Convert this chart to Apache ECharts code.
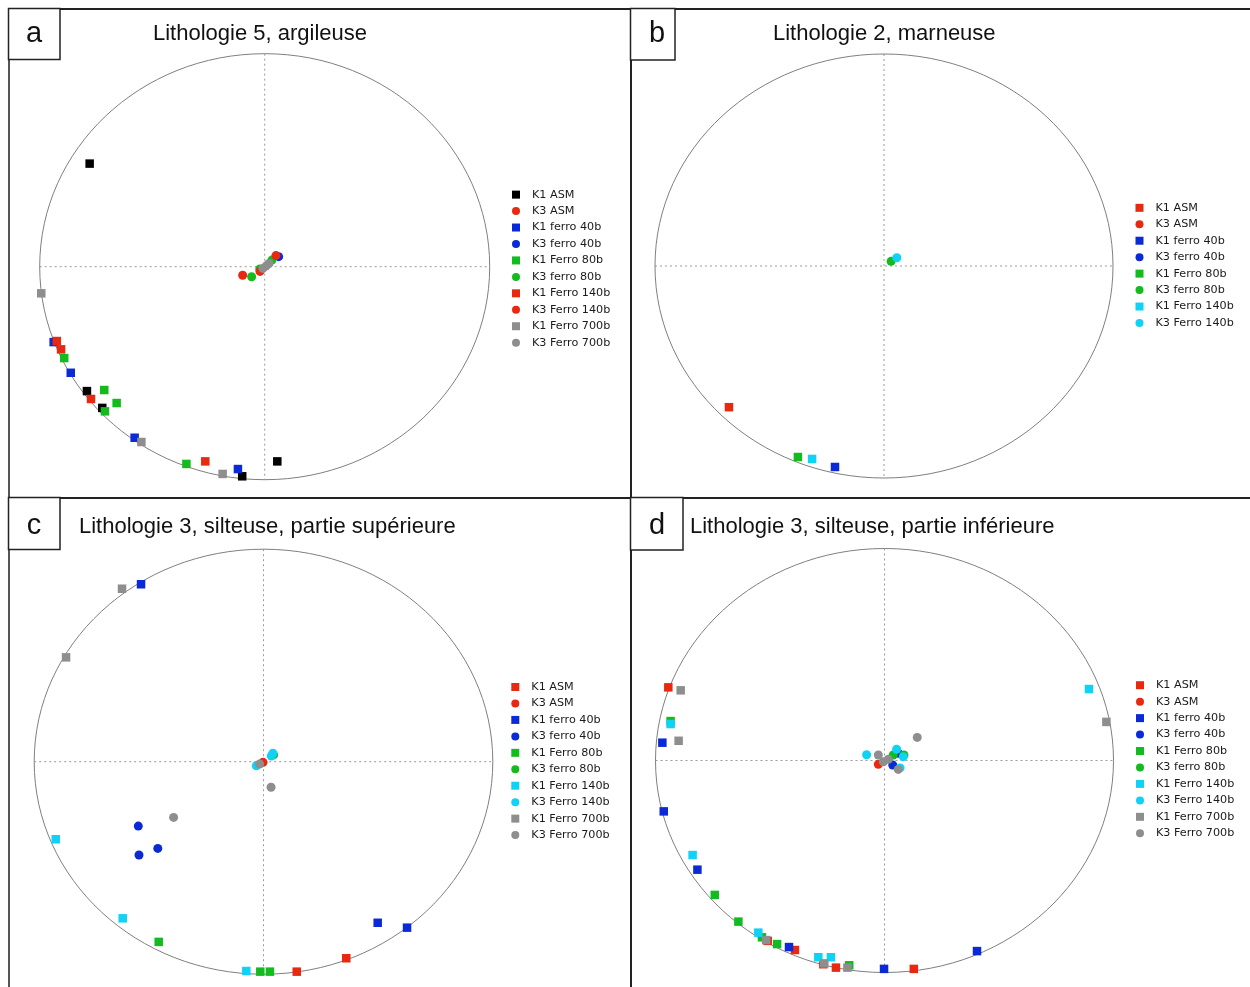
<!DOCTYPE html>
<html>
<head>
<meta charset="utf-8">
<script src="https://cdn.jsdelivr.net/npm/echarts@6/dist/echarts.min.js"></script>
<style>
html,body{margin:0;padding:0;background:#fff;}
#chart{width:1250px;height:987px;}
</style>
</head>
<body>
<div id="chart"></div>
<script>
// ---- colours ----
const BLACK = '#000000', RED = '#e8280f', BLUE = '#0a2ad8', GREEN = '#14bb1e', CYAN = '#0fd2f5', GRAY = '#8e8e8e';

// ---- panel titles / labels ----
const panelLetters = ['a', 'b', 'c', 'd'];
const panelTitles = ['Lithologie 5, argileuse', 'Lithologie 2, marneuse',
  'Lithologie 3, silteuse, partie supérieure', 'Lithologie 3, silteuse, partie inférieure'];

// ---- legend names ----
const namesFull = ['K1 ASM', 'K3 ASM', 'K1 ferro 40b', 'K3 ferro 40b', 'K1 Ferro 80b', 'K3 ferro 80b',
  'K1 Ferro 140b', 'K3 Ferro 140b', 'K1 Ferro 700b', 'K3 Ferro 700b'];
const namesB = namesFull.slice(0, 8);

// ---- panel a (normalised projection coordinates, unit circle) ----
const aK1ASM = [[-0.778, 0.484], [-0.790, -0.584], [-0.722, -0.663], [-0.100, -0.984], [0.056, -0.914]];
const aK3ASM = [[-0.098, -0.040]];
const aK1F40 = [[-0.938, -0.354], [-0.862, -0.498], [-0.578, -0.803], [-0.119, -0.950]];
const aK3F40 = [[0.062, 0.047]];
const aK1F80 = [[-0.891, -0.429], [-0.713, -0.579], [-0.658, -0.640], [-0.710, -0.679], [-0.348, -0.926]];
const aK3F80 = [[-0.058, -0.047], [-0.022, -0.011], [0.032, 0.031]];
const aK1F140 = [[-0.924, -0.349], [-0.905, -0.388], [-0.772, -0.621], [-0.264, -0.914]];
const aK3F140 = [[-0.021, -0.022], [0.050, 0.052]];
const aK1F700 = [[-0.993, -0.125], [-0.548, -0.823], [-0.187, -0.973]];
const aK3F700 = [[-0.008, -0.008], [0.006, 0.003], [0.019, 0.015]];

// ---- panel b ----
const bK1ASM = [[-0.677, -0.666]];
const bK3ASM = [];
const bK1F40 = [[-0.214, -0.948]];
const bK3F40 = [];
const bK1F80 = [[-0.376, -0.901]];
const bK3F80 = [[0.031, 0.022]];
const bK1F140 = [[-0.314, -0.910]];
const bK3F140 = [[0.056, 0.039]];

// ---- panel c ----
const cK1ASM = [[0.145, -0.988], [0.361, -0.925]];
const cK3ASM = [[-0.002, -0.003]];
const cK1F40 = [[-0.534, 0.835], [0.498, -0.758], [0.626, -0.781]];
const cK3F40 = [[-0.546, -0.303], [-0.461, -0.408], [-0.543, -0.439]];
const cK1F80 = [[-0.457, -0.848], [-0.014, -0.988], [0.028, -0.988]];
const cK3F80 = [[0.044, 0.032]];
const cK1F140 = [[-0.906, -0.365], [-0.614, -0.737], [-0.075, -0.985]];
const cK3F140 = [[-0.031, -0.019], [0.034, 0.027], [0.041, 0.040]];
const cK1F700 = [[-0.617, 0.814], [-0.861, 0.491]];
const cK3F700 = [[-0.392, -0.262], [-0.017, -0.011], [0.033, -0.120]];

// ---- panel d ----
const dK1ASM = [[-0.944, 0.345], [-0.510, -0.851], [-0.391, -0.894], [-0.267, -0.961], [-0.212, -0.977], [0.128, -0.983]];
const dK3ASM = [[-0.027, -0.018]];
const dK1F40 = [[-0.970, 0.084], [-0.964, -0.240], [-0.817, -0.515], [-0.417, -0.880], [-0.002, -0.983], [0.404, -0.899]];
const dK3F40 = [[0.060, 0.034], [0.036, -0.021]];
const dK1F80 = [[-0.934, 0.186], [-0.741, -0.634], [-0.638, -0.760], [-0.535, -0.834], [-0.469, -0.866], [-0.154, -0.966]];
const dK3F80 = [[0.038, 0.026], [0.085, 0.026]];
const dK1F140 = [[-0.934, 0.172], [-0.838, -0.446], [-0.551, -0.812], [-0.289, -0.928], [-0.234, -0.928], [0.893, 0.337]];
const dK3F140 = [[-0.078, 0.027], [0.053, 0.053], [0.082, 0.018], [0.068, -0.035]];
const dK1F700 = [[-0.890, 0.331], [-0.899, 0.093], [-0.517, -0.847], [-0.263, -0.957], [-0.162, -0.977], [0.969, 0.182]];
const dK3F700 = [[-0.027, 0.026], [-0.005, -0.006], [0.017, 0.006], [0.060, -0.042], [0.143, 0.109]];

// ---- layout ----
const grids = [
  {left: 39.7, top: 53.7, width: 450, height: 426},
  {left: 655, top: 54, width: 458, height: 424},
  {left: 34.2, top: 549.2, width: 458.6, height: 425},
  {left: 655.5, top: 548.5, width: 458, height: 424}
];
const legendPos = [
  {left: 507, top: 181.4},
  {left: 1130.5, top: 194.6},
  {left: 506.3, top: 673.8},
  {left: 1131, top: 672}
];
const panelData = [
  {names: namesFull, colors: [BLACK, RED, BLUE, BLUE, GREEN, GREEN, RED, RED, GRAY, GRAY],
   data: [aK1ASM, aK3ASM, aK1F40, aK3F40, aK1F80, aK3F80, aK1F140, aK3F140, aK1F700, aK3F700]},
  {names: namesB, colors: [RED, RED, BLUE, BLUE, GREEN, GREEN, CYAN, CYAN],
   data: [bK1ASM, bK3ASM, bK1F40, bK3F40, bK1F80, bK3F80, bK1F140, bK3F140]},
  {names: namesFull, colors: [RED, RED, BLUE, BLUE, GREEN, GREEN, CYAN, CYAN, GRAY, GRAY],
   data: [cK1ASM, cK3ASM, cK1F40, cK3F40, cK1F80, cK3F80, cK1F140, cK3F140, cK1F700, cK3F700]},
  {names: namesFull, colors: [RED, RED, BLUE, BLUE, GREEN, GREEN, CYAN, CYAN, GRAY, GRAY],
   data: [dK1ASM, dK3ASM, dK1F40, dK3F40, dK1F80, dK3F80, dK1F140, dK3F140, dK1F700, dK3F700]}
];

const SQ = 'path://M0,0L10,0L10,10L0,10Z';

function renderNet(params, api) {
  const c = api.coord([0, 0]);
  const r = api.coord([1, 1]);
  const rx = r[0] - c[0], ry = c[1] - r[1];
  const dash = {stroke: '#9a9a9a', lineWidth: 1, lineDash: [2, 3], fill: null};
  return {
    type: 'group',
    children: [
      {type: 'line', shape: {x1: c[0] - rx, y1: c[1], x2: c[0] + rx, y2: c[1]}, style: dash},
      {type: 'line', shape: {x1: c[0], y1: c[1] - ry, x2: c[0], y2: c[1] + ry}, style: dash},
      {type: 'ellipse', shape: {cx: c[0], cy: c[1], rx: rx, ry: ry}, style: {fill: null, stroke: '#7f7f7f', lineWidth: 1}}
    ]
  };
}

const xAxis = [], yAxis = [], series = [], legend = [];
grids.forEach((g, i) => {
  xAxis.push({gridIndex: i, type: 'value', min: -1, max: 1, show: false});
  yAxis.push({gridIndex: i, type: 'value', min: -1, max: 1, show: false});
  series.push({type: 'custom', xAxisIndex: i, yAxisIndex: i, data: [[0, 0]], renderItem: renderNet,
    silent: true, z: 1, clip: false});
  const pd = panelData[i];
  pd.names.forEach((n, k) => {
    const isSq = n.startsWith('K1');
    series.push({
      type: 'scatter', name: n, xAxisIndex: i, yAxisIndex: i,
      symbol: isSq ? 'rect' : 'circle', symbolSize: isSq ? 8.5 : 9,
      itemStyle: {color: pd.colors[k], opacity: 1},
      data: pd.data[k], z: 2 + k, silent: true, animation: false
    });
  });
  legend.push({
    left: legendPos[i].left, top: legendPos[i].top, orient: 'vertical',
    itemWidth: 20, itemHeight: 8, itemGap: 0, selectedMode: false, symbolKeepAspect: true,
    textStyle: {fontFamily: 'DejaVu Sans', fontSize: 11.2, color: '#1a1a1a', lineHeight: 16.45, padding: [0, 0, 0, 1]},
    data: pd.names.map((n, k) => ({
      name: n, icon: n.startsWith('K1') ? SQ : 'circle',
      itemStyle: {color: pd.colors[k], borderWidth: 0}
    }))
  });
});

// ---- frame, labels, titles ----
const FR = '#222';
const graphic = [
  {type: 'line', shape: {x1: 8, y1: 9, x2: 1250, y2: 9}, style: {stroke: FR, lineWidth: 2}},
  {type: 'line', shape: {x1: 9, y1: 8, x2: 9, y2: 987}, style: {stroke: '#555', lineWidth: 2}},
  {type: 'line', shape: {x1: 631, y1: 8, x2: 631, y2: 987}, style: {stroke: FR, lineWidth: 2}},
  {type: 'line', shape: {x1: 8, y1: 498, x2: 1250, y2: 498}, style: {stroke: FR, lineWidth: 2}},
  {type: 'rect', shape: {x: 8.5, y: 8.5, width: 51.5, height: 51}, style: {fill: '#fff', stroke: FR, lineWidth: 1.5}},
  {type: 'rect', shape: {x: 630.5, y: 8.5, width: 44.5, height: 51.5}, style: {fill: '#fff', stroke: FR, lineWidth: 1.5}},
  {type: 'rect', shape: {x: 8.5, y: 497.5, width: 51.5, height: 52}, style: {fill: '#fff', stroke: FR, lineWidth: 1.5}},
  {type: 'rect', shape: {x: 630.5, y: 497.5, width: 52.5, height: 52.5}, style: {fill: '#fff', stroke: FR, lineWidth: 1.5}}
];
const letterPos = [[34, 34], [657, 34], [34, 526], [657, 526]];
const titlePos = [[153, 34], [773, 34], [79, 527], [690, 527]];
panelLetters.forEach((l, i) => {
  graphic.push({type: 'text', x: letterPos[i][0], y: letterPos[i][1], z: 10,
    style: {text: l, fontFamily: 'Liberation Sans', fontSize: 29, fill: '#111', align: 'center', verticalAlign: 'middle'}});
  graphic.push({type: 'text', x: titlePos[i][0], y: titlePos[i][1], z: 10,
    style: {text: panelTitles[i], fontFamily: 'Liberation Sans', fontSize: 22, fill: '#111', align: 'left', verticalAlign: 'middle'}});
});

const chart = echarts.init(document.getElementById('chart'), null, {renderer: 'canvas'});
chart.setOption({
  backgroundColor: '#fff',
  animation: false,
  grid: grids.map(g => Object.assign({containLabel: false}, g)),
  xAxis: xAxis, yAxis: yAxis, series: series, legend: legend, graphic: graphic
});
</script>
</body>
</html>
